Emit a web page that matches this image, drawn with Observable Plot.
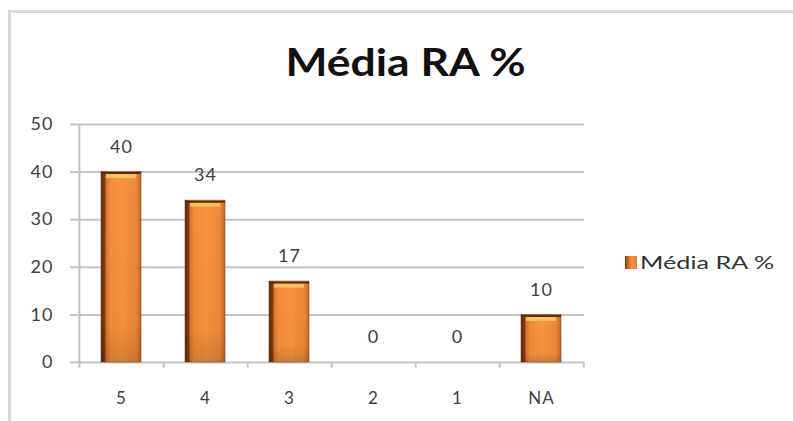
<!DOCTYPE html>
<html>
<head>
<meta charset="utf-8">
<script src="https://cdn.jsdelivr.net/npm/d3@7"></script>
<script src="https://cdn.jsdelivr.net/npm/@observablehq/plot@0.6"></script>
<style>
  html, body { margin: 0; padding: 0; background: #fff; }
  #wrap { position: relative; width: 793px; height: 421px; overflow: hidden; font-family: Lato, "Open Sans", sans-serif; }
  #border { position: absolute; left: 8px; top: 10px; right: -10px; bottom: -10px; border-left: 3px solid #d9d9d9; border-top: 3px solid #d9d9d9; }
  #title { position: absolute; left: 0; width: 811px; top: 42px; text-align: center; font-weight: bold; font-size: 38px; color: #111; line-height: 1; transform: scaleX(1.17); transform-origin: 405px 0; }
  #legend { position: absolute; left: 625px; top: 251px; font-size: 18px; color: #333; display: flex; align-items: center; white-space: nowrap; }
  #legend .sw { width: 12px; height: 13px; margin-right: 3px; background: linear-gradient(90deg, #7a3a0c 0%, #d9712c 30%, #f7963f 60%, #e07a30 100%); }
  #legend span { display: inline-block; transform: scaleX(1.4); transform-origin: 0 50%; }
  #chart { position: absolute; left: 0; top: 0; }
</style>
</head>
<body>
<div id="wrap">
  <div id="border"></div>
  <div id="title">Média RA %</div>
  <div id="legend"><div class="sw"></div><span>Média RA %</span></div>
  <div id="chart"></div>
</div>
<script>
const categories = ["5", "4", "3", "2", "1", "NA"];
const values = [40, 34, 17, 0, 0, 10];
const yTicks = [0, 10, 20, 30, 40, 50];

const data = categories.map((c, i) => ({cat: c, value: values[i]}));
const nonZero = data.filter(d => d.value > 0);

const W = 793, H = 421;
const mL = 78, mR = 209, mT = 124, mB = 59;
const band = (W - mL - mR) / categories.length;
const grid = "#c4c4c4";
const inset = 22;

const plot = Plot.plot({
  width: W, height: H,
  marginLeft: mL, marginRight: mR, marginTop: mT, marginBottom: mB,
  style: {fontFamily: "Lato, 'Open Sans', sans-serif", fontSize: "17px", color: "#404040", background: "transparent", letterSpacing: "1px"},
  x: {domain: categories, padding: 0, label: null},
  y: {domain: [0, 50], ticks: yTicks, label: null},
  marks: [
    Plot.ruleY(yTicks, {stroke: grid, strokeWidth: 2}),
    Plot.axisY({ticks: yTicks, tickSize: 8, tickPadding: 17, stroke: grid, strokeWidth: 2, fontSize: 18, fill: "#404040", label: null}),
    Plot.ruleX([categories[0]], {dx: -band / 2, y1: -1.2, y2: 50, stroke: grid, strokeWidth: 2, clip: false}),
    Plot.ruleX(categories, {dx: band / 2, y1: -1.2, y2: 0, stroke: grid, strokeWidth: 2, clip: false}),
    Plot.axisX({tickSize: 0, tickPadding: 29, fontSize: 17, fill: "#404040", label: null}),
    Plot.barY(nonZero, {x: "cat", y: "value", insetLeft: inset, insetRight: inset, fill: "url(#barGrad)", stroke: "#8a4414", strokeWidth: 0.6}),
    Plot.barY(nonZero, {x: "cat", y: "value", insetLeft: inset, insetRight: inset, fill: "url(#shadeGrad)"}),
    Plot.tickY(nonZero, {x: "cat", y: "value", insetLeft: inset + 5, insetRight: inset + 5, dy: 4, stroke: "#ffd36a", strokeWidth: 4, strokeOpacity: 0.75}),
    Plot.tickY(nonZero, {x: "cat", y: "value", insetLeft: inset, insetRight: inset, dy: 1, stroke: "#5a2c0c", strokeWidth: 2}),
    Plot.text(data, {x: "cat", y: "value", text: d => String(d.value), dy: -25, fontSize: 18, fill: "#404040"})
  ]
});

const svg = d3.select(plot);
const defs = svg.insert("defs", ":first-child");
const g = defs.append("linearGradient").attr("id", "barGrad").attr("x1", "0").attr("x2", "1").attr("y1", "0").attr("y2", "0");
[["0%", "#5a2a08"], ["9%", "#7e3c12"], ["13%", "#d8732e"], ["22%", "#f28c3c"], ["55%", "#f8963f"], ["88%", "#ee8838"], ["100%", "#c8662a"]]
  .forEach(([o, c]) => g.append("stop").attr("offset", o).attr("stop-color", c));
const s = defs.append("linearGradient").attr("id", "shadeGrad").attr("x1", "0").attr("x2", "0").attr("y1", "0").attr("y2", "1");
[["0%", "#000", 0], ["80%", "#000", 0.03], ["100%", "#000", 0.15]]
  .forEach(([o, c, a]) => s.append("stop").attr("offset", o).attr("stop-color", c).attr("stop-opacity", a));

document.getElementById("chart").appendChild(plot);
</script>
</body>
</html>
